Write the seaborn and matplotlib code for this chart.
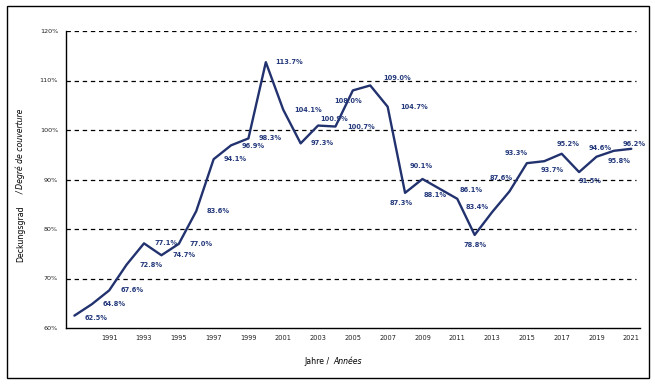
import matplotlib
matplotlib.use('Agg')
import matplotlib.pyplot as plt
import seaborn as sns
import pandas as pd
from matplotlib.patches import Rectangle

years = list(range(1989, 2022))
deckungsgrad = [62.5, 64.8, 67.6, 72.8, 77.1, 74.7, 77.0, 83.6, 94.1, 96.9, 98.3,
                113.7, 104.1, 97.3, 100.9, 100.7, 108.0, 109.0, 104.7, 87.3, 90.1,
                88.1, 86.1, 78.8, 83.4, 87.6, 93.3, 93.7, 95.2, 91.5, 94.6, 95.8, 96.2]
tick_years = list(range(1991, 2022, 2))

# label offsets in pixels (dx, dy with dy downwards), placed by hand like the original
label_offsets = [(22, 2), (22, 0), (23, 0), (24, 0), (22, 0), (23, 0), (22, 0), (22, 0),
                 (22, 0), (22, 1), (22, 0), (23, 0), (25, 0), (22, 0), (16, -7), (26, 0),
                 (-5, 11), (27, -7), (26, 0), (-4, 10), (-1, -13), (-5, 6), (14, -9),
                 (0, 10), (-15, -5), (-8, -13), (-11, -10), (8, 9), (6, -10), (11, 9),
                 (4, -9), (5, 10), (3, -5)]

df = pd.DataFrame({'Jahr': years, 'Deckungsgrad': deckungsgrad})

sns.set_style('white')
plt.rcParams['font.family'] = ['DejaVu Sans']

navy = '#22326f'
fig = plt.figure(figsize=(6.55, 3.84), dpi=100)
ax = fig.add_axes([65.7 / 655, 1 - 328 / 384, (640 - 65.7) / 655, (328 - 31) / 384])

sns.lineplot(data=df, x='Jahr', y='Deckungsgrad', color=navy, linewidth=1.7, ax=ax)

for x, y, (dx, dy) in zip(years, deckungsgrad, label_offsets):
    ax.annotate('%.1f%%' % y, (x, y), xytext=(dx, -dy), textcoords='offset pixels',
                ha='center', va='center', fontsize=4.8, fontweight='bold', color='#253a7c')

ax.set_xlim(1988.5, 2021.5)
ax.set_ylim(60, 120)
ax.set_yticks(range(60, 121, 10))
ax.set_yticklabels(['%d%%' % v for v in range(60, 121, 10)])
ax.set_xticks(tick_years)
ax.set_xticklabels([str(y) for y in tick_years])
ax.set_xticks([y + 0.5 for y in range(1988, 2021)], minor=True)
ax.tick_params(axis='x', which='major', length=0, labelsize=4.8, labelcolor='#222222', pad=5)
ax.tick_params(axis='x', which='minor', length=3, width=0.8, direction='out', color='black')
ax.tick_params(axis='y', length=5, width=0.8, direction='inout', color='black',
               labelsize=4.6, labelcolor='#222222', pad=3)
ax.set_xlabel('')
ax.set_ylabel('')

for v in range(70, 121, 10):
    ax.axhline(v, xmax=0.993, color='black', linewidth=0.9, linestyle=(0, (3.5, 3)), zorder=0)

for side in ['top', 'right']:
    ax.spines[side].set_visible(False)
for side in ['left', 'bottom']:
    ax.spines[side].set_color('black')
    ax.spines[side].set_linewidth(1.0)

# axis titles, half German and half French in italics
fig.text(332 / 655, 1 - 362 / 384, 'Jahre / ', ha='right', va='center', fontsize=5.6, color='black')
fig.text(333 / 655, 1 - 362 / 384, 'Années', ha='left', va='center', fontsize=5.6,
         style='italic', color='black')
fig.text(21 / 655, 1 - 262 / 384, 'Deckungsgrad', rotation=90, ha='center', va='bottom',
         fontsize=5.6, color='black')
fig.text(21 / 655, 1 - 194 / 384, '/ Degré de couverture', rotation=90, ha='center',
         va='bottom', fontsize=5.6, style='italic', color='black')

fig.patches.append(Rectangle((7 / 655, 1 - 378 / 384), (649 - 7) / 655, (378 - 6) / 384,
                             transform=fig.transFigure, fill=False, edgecolor='black',
                             linewidth=1.0))

fig.savefig('out.png', dpi=100)
